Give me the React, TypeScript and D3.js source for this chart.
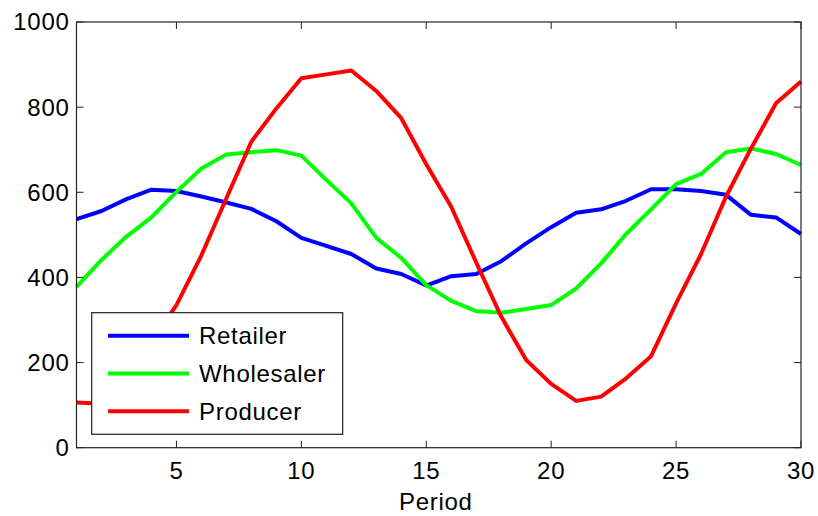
import React from 'react';
import * as d3 from 'd3';

const periods = d3.range(1, 31);
const retailer = [537, 556, 584, 606, 603, 590, 576, 561, 532, 493, 474, 455, 421, 408, 381, 403, 408, 438, 480, 518, 552, 560, 580, 607, 607, 603, 594, 547, 541, 502];
const wholesaler = [378, 441, 496, 541, 601, 656, 689, 694, 699, 686, 629, 574, 493, 446, 382, 345, 321, 317, 326, 335, 374, 433, 502, 560, 619, 643, 694, 703, 690, 664];
const producer = [106, 103, 160, 250, 335, 452, 586, 719, 797, 868, 877, 886, 838, 774, 666, 566, 435, 308, 206, 150, 110, 120, 163, 215, 339, 455, 590, 703, 809, 860];
const seriesNames = ['Retailer', 'Wholesaler', 'Producer'];
const seriesColors = ['#0000ff', '#00ff00', '#ff0000'];
const xTicks = [5, 10, 15, 20, 25, 30];
const yTicks = [0, 200, 400, 600, 800, 1000];

const W = 818;
const H = 516;
const FONT = '"Liberation Sans", Arial, Helvetica, sans-serif';

export default function App() {
  const x = d3.scaleLinear().domain([1, 30]).range([76.5, 801]);
  const y = d3.scaleLinear().domain([0, 1000]).range([447.7, 22]);
  const line = d3
    .line<number>()
    .x((_, i) => x(periods[i]))
    .y(d => y(d));

  const all = [retailer, wholesaler, producer];
  const axisColor = '#222';
  const tickLen = 7;
  const fs = 24;
  const ls = 0.7;

  const legend = { x: 91.7, y: 312.7, w: 251, h: 121.6 };
  const rowY = [335.7, 373.5, 411.3];

  return (
    <svg
      width={W}
      height={H}
      style={{ position: 'absolute', left: 0, top: 0, background: '#fff' }}
      fontFamily={FONT}
      letterSpacing={ls}
    >
      {all.map((s, i) => (
        <path key={i} d={line(s) || ''} fill="none" stroke={seriesColors[i]} strokeWidth={4} strokeLinejoin="round" />
      ))}

      {/* axes box */}
      <rect
        x={x(1)}
        y={y(1000)}
        width={x(30) - x(1)}
        height={y(0) - y(1000)}
        fill="none"
        stroke={axisColor}
        strokeWidth={1.2}
      />
      {xTicks.map(t => (
        <g key={t}>
          <line x1={x(t)} x2={x(t)} y1={y(0)} y2={y(0) - tickLen} stroke={axisColor} />
          <line x1={x(t)} x2={x(t)} y1={y(1000)} y2={y(1000) + tickLen} stroke={axisColor} />
          <text x={x(t)} y={y(0) + 31} fontSize={fs} textAnchor="middle" fill="#000">
            {t}
          </text>
        </g>
      ))}
      {yTicks.map(t => (
        <g key={t}>
          <line x1={x(1)} x2={x(1) + tickLen} y1={y(t)} y2={y(t)} stroke={axisColor} />
          <line x1={x(30)} x2={x(30) - tickLen} y1={y(t)} y2={y(t)} stroke={axisColor} />
          <text x={x(1) - 7} y={y(t)} dy="0.35em" fontSize={fs} textAnchor="end" fill="#000">
            {t}
          </text>
        </g>
      ))}
      <text x={(x(1) + x(30)) / 2 - 3} y={510} fontSize={fs} textAnchor="middle" fill="#000">
        Period
      </text>

      {/* legend */}
      <rect x={legend.x} y={legend.y} width={legend.w} height={legend.h} fill="#fff" stroke={axisColor} strokeWidth={1.2} />
      {seriesNames.map((n, i) => (
        <g key={n}>
          <line x1={108} x2={189} y1={rowY[i]} y2={rowY[i]} stroke={seriesColors[i]} strokeWidth={4} />
          <text x={199} y={rowY[i]} dy="0.35em" fontSize={fs} fill="#000">
            {n}
          </text>
        </g>
      ))}
    </svg>
  );
}
